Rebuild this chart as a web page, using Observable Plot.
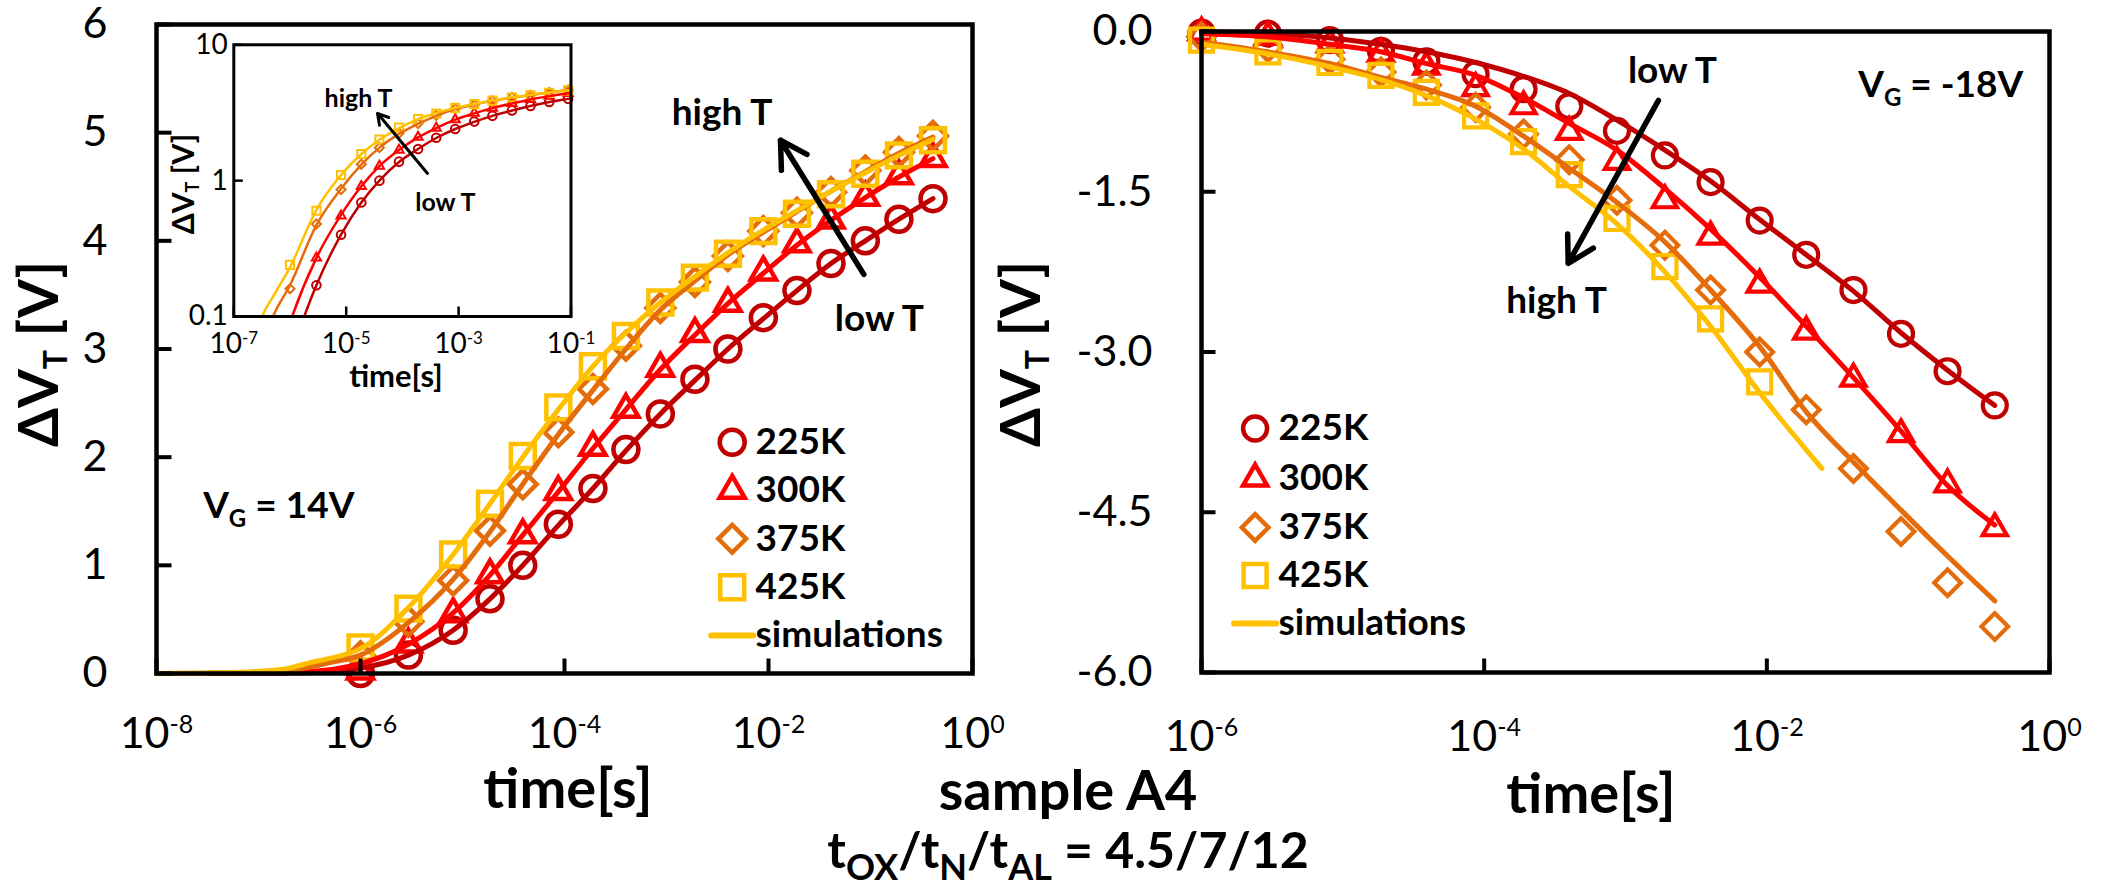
<!DOCTYPE html>
<html>
<head>
<meta charset="utf-8">
<script src="https://cdn.jsdelivr.net/npm/d3@7"></script>
<script src="https://cdn.jsdelivr.net/npm/@observablehq/plot@0.6"></script>
<style>
  html, body { margin: 0; padding: 0; background: #fff; }
  #wrap { position: relative; width: 2105px; height: 888px; overflow: hidden; background: #fff; font-family: Lato, sans-serif; }
  #wrap svg { position: absolute; overflow: visible; }
  #wrap text { white-space: pre; }
</style>
</head>
<body>
<div id="wrap"></div>
<script>
// ================= DATA =================
const seriesNames = ["225K", "300K", "375K", "425K"];

// measurement times (s), shared by all temperatures
const times = [1e-6, 2.95e-6, 8.1e-6, 1.86e-5, 3.9e-5, 8.7e-5, 1.9e-4, 4.0e-4, 8.7e-4, 1.9e-3, 4.0e-3, 8.9e-3, 1.9e-2, 4.1e-2, 8.9e-2, 0.19, 0.41];

// V_G = 14 V : measured dVT (V)
const pos225 = [0.00, 0.17, 0.40, 0.69, 1.00, 1.38, 1.71, 2.07, 2.40, 2.72, 3.00, 3.29, 3.54, 3.79, 4.00, 4.20, 4.39];
const pos300 = [0.02, 0.27, 0.55, 0.91, 1.28, 1.68, 2.09, 2.44, 2.82, 3.14, 3.42, 3.71, 3.97, 4.19, 4.40, 4.60, 4.76];
const pos375 = [0.16, 0.48, 0.86, 1.32, 1.75, 2.23, 2.63, 3.03, 3.38, 3.62, 3.86, 4.09, 4.26, 4.45, 4.65, 4.82, 4.97];
const pos425 = [0.24, 0.60, 1.10, 1.57, 2.01, 2.46, 2.84, 3.12, 3.43, 3.66, 3.88, 4.09, 4.25, 4.43, 4.62, 4.79, 4.93];

// V_G = 14 V : simulations
const simTimesPos = [1e-8, 3e-8, 1e-7, 2e-7, 3.2e-7, 5e-7, 1e-6, 2.95e-6, 8.1e-6, 1.86e-5, 3.9e-5, 8.7e-5, 1.9e-4, 4e-4, 8.7e-4, 1.9e-3, 4e-3, 8.9e-3, 1.9e-2, 4.1e-2, 8.9e-2, 0.19, 0.41];
const simPos225 = [0, 0.0005, 0.002, 0.005, 0.01, 0.02, 0.05, 0.17, 0.40, 0.69, 1.00, 1.37, 1.71, 2.06, 2.40, 2.71, 3.00, 3.28, 3.54, 3.79, 4.00, 4.20, 4.39];
const simPos300 = [0, 0.001, 0.004, 0.01, 0.02, 0.035, 0.09, 0.27, 0.56, 0.91, 1.28, 1.68, 2.08, 2.44, 2.81, 3.13, 3.42, 3.70, 3.96, 4.19, 4.40, 4.59, 4.76];
const simPos375 = [0, 0.003, 0.012, 0.03, 0.06, 0.10, 0.17, 0.47, 0.87, 1.31, 1.75, 2.21, 2.62, 3.00, 3.36, 3.63, 3.87, 4.08, 4.27, 4.46, 4.64, 4.81, 4.96];
const simPos425 = [0, 0.005, 0.02, 0.05, 0.10, 0.14, 0.23, 0.61, 1.10, 1.57, 2.00, 2.44, 2.84, 3.15, 3.43, 3.67, 3.89, 4.10, 4.28, 4.46, 4.63, 4.79, 4.94];

// V_G = -18 V : measured dVT (V)
const neg225 = [-0.01, -0.02, -0.08, -0.18, -0.28, -0.40, -0.54, -0.70, -0.93, -1.16, -1.41, -1.77, -2.09, -2.42, -2.83, -3.18, -3.50];
const neg300 = [-0.01, -0.05, -0.12, -0.21, -0.33, -0.53, -0.70, -0.94, -1.22, -1.58, -1.92, -2.37, -2.81, -3.25, -3.77, -4.24, -4.65];
const neg375 = [-0.05, -0.15, -0.26, -0.38, -0.50, -0.71, -0.96, -1.20, -1.58, -2.00, -2.42, -3.00, -3.54, -4.09, -4.68, -5.16, -5.57];
const neg425 = [-0.08, -0.19, -0.29, -0.41, -0.57, -0.79, -1.03, -1.34, -1.75, -2.20, -2.69, -3.28];

// V_G = -18 V : simulations
const simTimesNeg = [1e-6, 2.95e-6, 8.1e-6, 1.86e-5, 3.9e-5, 8.7e-5, 1.9e-4, 4.0e-4, 8.7e-4, 1.9e-3, 4.0e-3, 8.9e-3, 1.9e-2, 4.1e-2, 8.9e-2, 0.19, 0.41];
const simTimesNeg425 = [1e-6, 2.95e-6, 8.1e-6, 1.86e-5, 3.9e-5, 8.7e-5, 1.9e-4, 4.0e-4, 8.7e-4, 1.9e-3, 4.0e-3, 8.9e-3, 2.45e-2];
const simNeg225 = [0.00, -0.02, -0.06, -0.12, -0.19, -0.29, -0.42, -0.58, -0.83, -1.11, -1.40, -1.76, -2.09, -2.43, -2.82, -3.17, -3.50];
const simNeg300 = [-0.02, -0.05, -0.12, -0.19, -0.30, -0.41, -0.62, -0.86, -1.11, -1.47, -1.85, -2.30, -2.76, -3.24, -3.74, -4.25, -4.62];
const simNeg375 = [-0.10, -0.19, -0.30, -0.43, -0.54, -0.70, -0.98, -1.28, -1.60, -1.97, -2.42, -2.95, -3.56, -4.03, -4.48, -4.91, -5.33];
const simNeg425 = [-0.12, -0.21, -0.33, -0.45, -0.60, -0.82, -1.10, -1.45, -1.80, -2.25, -2.76, -3.38, -4.09];

// axis ticks
const xTicksPos = [1e-8, 1e-6, 1e-4, 1e-2, 1];
const yTicksPos = [0, 1, 2, 3, 4, 5, 6];
const xTicksNeg = [1e-6, 1e-4, 1e-2, 1];
const yTicksNeg = [0, -1.5, -3, -4.5, -6];
const xTicksInset = [1e-7, 1e-5, 1e-3, 1e-1];
const yTicksInset = [0.1, 1, 10];

// annotations (data coordinates)
const annPos = [{t: 3.5e-3, v: 5.18, label: "high T"}, {t: 0.122, v: 3.28, label: "low T"}];
const arrowPos = [{t1: 0.086, v1: 3.69, t2: 0.0131, v2: 4.93}];
const annNeg = [{t: 2.15e-3, v: -0.37, label: "low T"}, {t: 3.25e-4, v: -2.52, label: "high T"}];
const arrowNeg = [{t1: 1.71e-3, v1: -0.645, t2: 3.93e-4, v2: -2.17}];
const annInset = [{t: 1.66e-5, v: 4.0, label: "high T"}, {t: 5.8e-4, v: 0.68, label: "low T"}];
const arrowInset = [{t1: 2.8e-4, v1: 1.13, t2: 3.6e-5, v2: 3.13}];
const vgPos = {t: 2.9e-8, v: 1.43, text: " = 14V"};
const vgNeg = {t: 0.0447, v: -0.614, text: " = -18V"};

// ================= STYLE =================
const STY = {
  "225K": {color: "#C00000", symbol: "circle"},
  "300K": {color: "#FF0000", symbol: "triangle2"},
  "375K": {color: "#E46C0A", symbol: "diamond2"},
  "425K": {color: "#FFC000", symbol: "square"}
};
const R_MAIN = {"225K": 12.5, "300K": 12, "375K": 12.5, "425K": 13.5};
const R_RIGHT = {"225K": 12, "300K": 11.5, "375K": 12, "425K": 13};
const R_INSET = {"225K": 4.3, "300K": 4.4, "375K": 4.1, "425K": 4.6};
const NS = "http://www.w3.org/2000/svg";
const FONT = "Lato, sans-serif";

const rows = (ts, vs) => vs.map((v, i) => ({t: ts[i], v}));
const tickSym = (dx, dy) => ({draw(ctx) { ctx.moveTo(0, 0); ctx.lineTo(dx, dy); }});
const hLine = {draw(ctx) { ctx.moveTo(-21, 0); ctx.lineTo(21, 0); }};
const expFmt = d => "10^" + Math.round(Math.log10(d));

function dataMarks(obs, sims, rmap, sw, lw, filt = () => true, clip = false) {
  const m = [];
  seriesNames.forEach((n, i) => {
    m.push(Plot.dot(obs[i].filter(filt), {x: "t", y: "v", symbol: STY[n].symbol, r: rmap[n],
      stroke: STY[n].color, strokeWidth: sw, fill: "none"}));
  });
  seriesNames.forEach((n, i) => {
    m.push(Plot.line(sims[i].filter(filt), {x: "t", y: "v", stroke: STY[n].color, strokeWidth: lw,
      curve: "monotone-x", clip}));
  });
  return m;
}

function legendMarks(mx, ys, lineY, lx, rmap) {
  const m = [];
  seriesNames.forEach((n, i) => {
    m.push(Plot.dot([n], {frameAnchor: "top-left", dx: mx, dy: ys[i], symbol: STY[n].symbol, r: rmap[n],
      stroke: STY[n].color, strokeWidth: 4.5, fill: "none"}));
    m.push(Plot.text([n], {frameAnchor: "top-left", dx: lx, dy: ys[i], text: d => d, textAnchor: "start",
      lineAnchor: "middle", fontSize: 37, fontWeight: "bold", fill: "black"}));
  });
  m.push(Plot.dot(["sim"], {frameAnchor: "top-left", dx: mx, dy: lineY, symbol: hLine, stroke: "#FFC000",
    strokeWidth: 6, strokeLinecap: "round", fill: "none"}));
  m.push(Plot.text(["simulations"], {frameAnchor: "top-left", dx: lx, dy: lineY, text: d => d, textAnchor: "start",
    lineAnchor: "middle", fontSize: 37, fontWeight: "bold", fill: "black"}));
  return m;
}

function supTicks(svg, label, expSize, raise) {
  svg.querySelectorAll(`[aria-label="${label}"] text`).forEach(el => {
    const s = el.textContent, k = s.indexOf("^");
    if (k < 0) return;
    el.textContent = "";
    const a = document.createElementNS(NS, "tspan"); a.textContent = s.slice(0, k);
    const b = document.createElementNS(NS, "tspan"); b.textContent = s.slice(k + 1);
    b.setAttribute("font-size", expSize); b.setAttribute("dy", -raise);
    el.append(a, b);
  });
}

function richText(svg, x, y, parts, {size, weight = "bold", anchor = "middle", rotate = 0}) {
  const t = document.createElementNS(NS, "text");
  t.setAttribute("x", x); t.setAttribute("y", y);
  t.setAttribute("font-size", size); t.setAttribute("font-weight", weight);
  t.setAttribute("font-family", FONT); t.setAttribute("text-anchor", anchor); t.setAttribute("fill", "black");
  if (rotate) t.setAttribute("transform", `rotate(${rotate} ${x} ${y})`);
  for (const p of parts) {
    const s = document.createElementNS(NS, "tspan");
    s.textContent = p.t;
    if (p.size) s.setAttribute("font-size", p.size);
    if (p.dy) s.setAttribute("dy", p.dy);
    t.appendChild(s);
  }
  svg.appendChild(t);
  return t;
}

const wrap = document.getElementById("wrap");
function place(svg, left, top) { svg.style.left = left + "px"; svg.style.top = top + "px"; wrap.appendChild(svg); }

// ================= LEFT PLOT (V_G = 14 V) =================
const obsPos = [rows(times, pos225), rows(times, pos300), rows(times, pos375), rows(times, pos425)];
const simsPos = [rows(simTimesPos, simPos225), rows(simTimesPos, simPos300), rows(simTimesPos, simPos375), rows(simTimesPos, simPos425)];

const leftPlot = Plot.plot({
  width: 1000, height: 888,
  marginLeft: 156, marginRight: 28, marginTop: 24, marginBottom: 215,
  style: {background: "transparent", fontFamily: FONT, color: "black"},
  x: {type: "log", domain: [1e-8, 1], label: null},
  y: {domain: [0, 6], label: null},
  marks: [
    Plot.axisX(xTicksPos, {tickSize: 0, tickPadding: 44, fontSize: 43, tickFormat: expFmt, label: null}),
    Plot.axisY(yTicksPos, {tickSize: 0, tickPadding: 49, fontSize: 43, tickFormat: d => String(d), label: null}),
    ...dataMarks(obsPos, simsPos, R_MAIN, 4.5, 5),
    Plot.dot(xTicksPos, {x: d => d, frameAnchor: "bottom", symbol: tickSym(0, -15), stroke: "black", strokeWidth: 4, fill: "none"}),
    Plot.dot(yTicksPos, {y: d => d, frameAnchor: "left", symbol: tickSym(15, 0), stroke: "black", strokeWidth: 4, fill: "none"}),
    Plot.frame({stroke: "black", strokeWidth: 4.5}),
    Plot.text(annPos, {x: "t", y: "v", text: "label", fontSize: 37, fontWeight: "bold", fill: "black"}),
    Plot.arrow(arrowPos, {x1: "t1", y1: "v1", x2: "t2", y2: "v2", stroke: "black", strokeWidth: 5.5, headLength: 8.2}),
    ...legendMarks(575.7, [417.7, 466, 514.3, 562.7], 611, 599, R_MAIN)
  ]
});
supTicks(leftPlot, "x-axis tick label", 25, 15);
place(leftPlot, 0, 0);
{
  const sx = leftPlot.scale("x"), sy = leftPlot.scale("y");
  richText(leftPlot, sx.apply(vgPos.t), sy.apply(vgPos.v),
    [{t: "V"}, {t: "G", size: 24, dy: 9}, {t: vgPos.text, dy: -9}], {size: 37, anchor: "start"});
}

// ================= RIGHT PLOT (V_G = -18 V) =================
const obsNeg = [rows(times, neg225), rows(times, neg300), rows(times, neg375), rows(times, neg425)];
const simsNeg = [rows(simTimesNeg, simNeg225), rows(simTimesNeg, simNeg300), rows(simTimesNeg, simNeg375), rows(simTimesNeg425, simNeg425)];

const rightPlot = Plot.plot({
  width: 1105, height: 888,
  marginLeft: 201, marginRight: 56, marginTop: 31, marginBottom: 216,
  style: {background: "transparent", fontFamily: FONT, color: "black"},
  x: {type: "log", domain: [1e-6, 1], label: null},
  y: {domain: [-6, 0], label: null},
  marks: [
    Plot.axisX(xTicksNeg, {tickSize: 0, tickPadding: 48, fontSize: 43, tickFormat: expFmt, label: null}),
    Plot.axisY(yTicksNeg, {tickSize: 0, tickPadding: 49, fontSize: 43, tickFormat: d => d.toFixed(1), label: null}),
    ...dataMarks(obsNeg, simsNeg, R_RIGHT, 4.2, 5),
    Plot.dot(xTicksNeg, {x: d => d, frameAnchor: "bottom", symbol: tickSym(0, -14), stroke: "black", strokeWidth: 4, fill: "none"}),
    Plot.dot(yTicksNeg, {y: d => d, frameAnchor: "left", symbol: tickSym(14, 0), stroke: "black", strokeWidth: 4, fill: "none"}),
    Plot.frame({stroke: "black", strokeWidth: 4.5}),
    Plot.text(annNeg, {x: "t", y: "v", text: "label", fontSize: 37, fontWeight: "bold", fill: "black"}),
    Plot.arrow(arrowNeg, {x1: "t1", y1: "v1", x2: "t2", y2: "v2", stroke: "black", strokeWidth: 5.5, headLength: 8}),
    ...legendMarks(53.6, [397, 447, 496, 544], 592, 77, R_RIGHT)
  ]
});
supTicks(rightPlot, "x-axis tick label", 25, 15);
place(rightPlot, 1000, 0);
{
  const sx = rightPlot.scale("x"), sy = rightPlot.scale("y");
  richText(rightPlot, sx.apply(vgNeg.t), sy.apply(vgNeg.v),
    [{t: "V"}, {t: "G", size: 24, dy: 9}, {t: vgNeg.text, dy: -9}], {size: 37, anchor: "start"});
}

// ================= INSET (log-log, V_G = 14 V) =================
const inRange = d => d.v >= 0.1 && d.t <= 0.1;
const positive = d => d.v > 0;
const insetPlot = Plot.plot({
  width: 450, height: 400,
  marginLeft: 83.3, marginRight: 29.5, marginTop: 24.3, marginBottom: 104,
  style: {background: "transparent", fontFamily: FONT, color: "black"},
  x: {type: "log", domain: [1e-7, 1e-1], label: null},
  y: {type: "log", domain: [0.1, 10], label: null},
  marks: [
    Plot.axisX(xTicksInset, {tickSize: 0, tickPadding: 17, fontSize: 28, tickFormat: expFmt, label: null}),
    Plot.axisY(yTicksInset, {tickSize: 0, tickPadding: 6, fontSize: 28, tickFormat: d => (d < 1 ? "0.1" : String(d)), label: null}),
    ...seriesNames.map((n, i) => Plot.dot(obsPos[i].filter(inRange), {x: "t", y: "v", symbol: STY[n].symbol, r: R_INSET[n],
      stroke: STY[n].color, strokeWidth: 2, fill: "none"})),
    ...seriesNames.map((n, i) => Plot.line(simsPos[i].filter(positive), {x: "t", y: "v", stroke: STY[n].color,
      strokeWidth: 2.5, curve: "monotone-x", clip: true})),
    Plot.dot(xTicksInset, {x: d => d, frameAnchor: "bottom", symbol: tickSym(0, -10), stroke: "black", strokeWidth: 2.5, fill: "none"}),
    Plot.dot(yTicksInset, {y: d => d, frameAnchor: "left", symbol: tickSym(9, 0), stroke: "black", strokeWidth: 2.5, fill: "none"}),
    Plot.frame({stroke: "black", strokeWidth: 3}),
    Plot.text(annInset, {x: "t", y: "v", text: "label", fontSize: 25, fontWeight: "bold", fill: "black"}),
    Plot.arrow(arrowInset, {x1: "t1", y1: "v1", x2: "t2", y2: "v2", stroke: "black", strokeWidth: 3, headLength: 6})
  ]
});
supTicks(insetPlot, "x-axis tick label", 17, 9);
place(insetPlot, 150, 20);

// ================= TITLES (overlay) =================
const overlay = document.createElementNS(NS, "svg");
overlay.setAttribute("width", 2105); overlay.setAttribute("height", 888);
overlay.style.pointerEvents = "none";
place(overlay, 0, 0);

const yLabelParts = (sub, dy) => [{t: "\u0394V"}, {t: "T", size: sub, dy}, {t: " [V]", dy: -dy}];
richText(overlay, 58, 354, yLabelParts(32, 9), {size: 56, rotate: -90});
richText(overlay, 1040, 354, yLabelParts(32, 9), {size: 56, rotate: -90});
richText(overlay, 568, 808, [{t: "time[s]"}], {size: 56});
richText(overlay, 1591, 813, [{t: "time[s]"}], {size: 56});
richText(overlay, 1068, 810, [{t: "sample A4"}], {size: 56});
richText(overlay, 1068, 868, [
  {t: "t"}, {t: "OX", size: 36, dy: 12}, {t: "/t", dy: -12}, {t: "N", size: 36, dy: 12},
  {t: "/t", dy: -12}, {t: "AL", size: 36, dy: 12}, {t: " = 4.5/7/12", dy: -12}
], {size: 50});
// inset titles
richText(overlay, 194, 184, yLabelParts(18, 5), {size: 30, rotate: -90});
richText(overlay, 396, 387, [{t: "time[s]"}], {size: 31});
</script>
</body>
</html>
